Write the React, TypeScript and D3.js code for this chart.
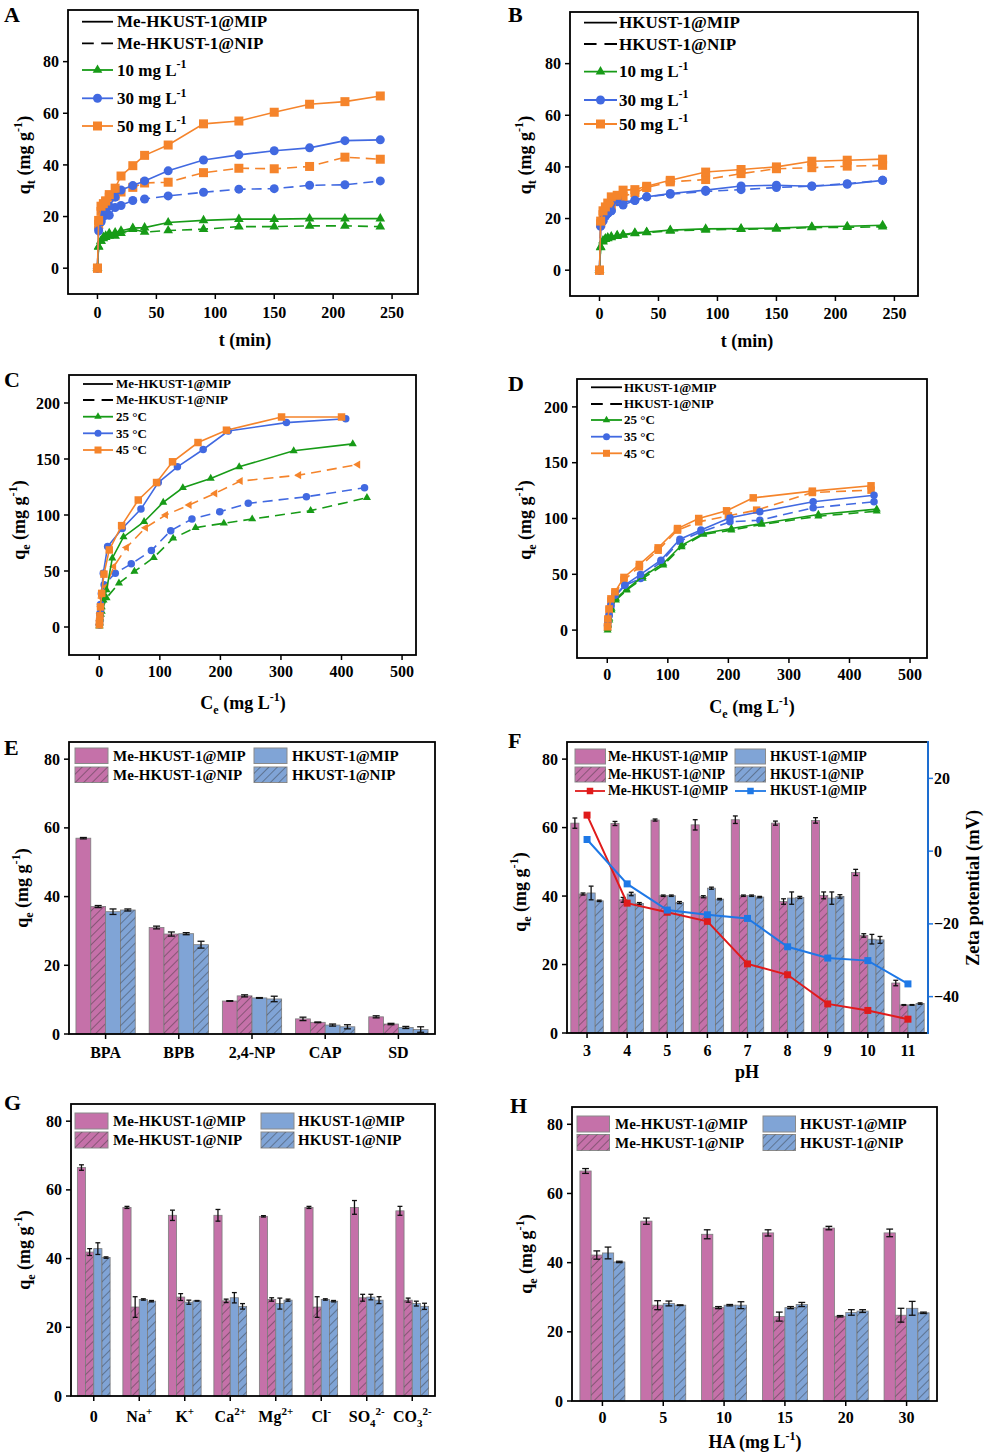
import React from 'react';
import * as d3 from 'd3';

const FONT = '"Liberation Serif","Times New Roman",Times,serif';
const ORANGE = '#F5842B';
const BLUE = '#4169E1';
const GREEN = '#179B17';
const PINK = '#C571A9';
const LBLUE = '#80A4D6';
const ZRED = '#E01B1B';
const ZBLUE = '#1E78E6';

// ---------- Panel A / B (kinetics) ----------
const tTime = [0, 1, 3, 5, 7, 10, 15, 20, 30, 40, 60, 90, 120, 150, 180, 210, 240];
const A_MIP_50 = [0, 18.5, 24, 25, 26, 28.5, 31, 35.7, 39.7, 43.7, 47.7, 55.9, 57, 60.4, 63.5, 64.5, 66.7];
const A_NIP_50 = [0, 17, 22, 24, 26, 27.5, 28, 29.5, 31.3, 33, 33.3, 37, 38.7, 38.5, 39.4, 43, 42.2];
const A_MIP_30 = [0, 14.5, 18, 21.5, 22.5, 24, 27.5, 30.3, 32, 33.8, 37.7, 41.9, 43.9, 45.5, 46.6, 49.4, 49.7];
const A_NIP_30 = [0, 15.5, 18, 20, 21, 20.5, 23.5, 24.3, 26.2, 26.8, 28, 29.4, 30.6, 30.8, 32.1, 32.3, 33.8];
const A_MIP_10 = [0, 8.4, 10.5, 12, 12.5, 13.5, 13.8, 14.5, 15.5, 15.7, 17.7, 18.5, 19, 19, 19.2, 19.2, 19.2];
const A_NIP_10 = [0, 8.2, 10.5, 11.5, 12, 12.5, 12.5, 13.5, 15.1, 14, 14.6, 15.1, 16.1, 16.1, 16.4, 16.4, 16.1];

const B_MIP_50 = [0, 19, 23, 24.5, 26, 28.4, 29, 31, 31.2, 32.5, 34.8, 38, 39, 40, 42.2, 42.6, 43];
const B_NIP_50 = [0, 18, 21.5, 23, 24, 25, 27.5, 28.6, 30, 32, 34.2, 35.1, 37.4, 39.3, 39.7, 40.3, 40.6];
const B_MIP_30 = [0, 17, 19.5, 21, 22, 23, 27.4, 25.2, 27.1, 28.4, 29.7, 31, 32.6, 32.9, 32.5, 33.3, 34.8];
const B_NIP_30 = [0, 17.5, 19, 21, 22, 23, 26.5, 26.5, 27, 28.4, 29.4, 30.5, 31.2, 32, 32.6, 33.5, 34.8];
const B_MIP_10 = [0, 9, 11.5, 12.2, 12.6, 13, 13.5, 13.8, 14.5, 14.8, 15.5, 16, 16.1, 16.3, 16.8, 17, 17.4];
const B_NIP_10 = [0, 8.8, 11, 12, 12.3, 12.7, 13.2, 13.6, 14.2, 14.6, 15.2, 15.6, 15.9, 16, 16.5, 16.6, 16.8];

// ---------- Panel C (Me-HKUST-1 isotherms) ----------
const C_MIP25_ce = [0.2, 0.5, 1, 2, 4, 7, 12, 21.5, 40, 74, 105.6, 138, 184, 231, 321, 418.6];
const C_MIP25_q = [1, 3, 7, 12, 18, 24, 33, 61.4, 80.4, 94, 111.3, 124.3, 132.6, 143, 157.3, 163.5];
const C_MIP35_ce = [0.2, 0.5, 1, 2, 3.5, 6.6, 13.8, 38, 68.8, 97.4, 129, 171.6, 213, 309, 407];
const C_MIP35_q = [2, 6, 12, 20, 30, 48, 71.8, 88, 105.3, 129, 143, 158.5, 175, 182.5, 186];
const C_MIP45_ce = [0.2, 0.5, 1, 2, 4, 7.7, 16.5, 36.9, 64.4, 94.6, 121, 163, 210, 301, 400];
const C_MIP45_q = [2, 5, 10, 18, 30, 47.2, 68.8, 90.5, 113.4, 129, 147.5, 164.7, 175.7, 187.5, 187.5];
const C_NIP25_ce = [0.3, 0.7, 1.5, 2.5, 4, 12, 32.5, 58, 90, 122, 159, 205.7, 252.5, 349, 442];
const C_NIP25_q = [1, 4, 8, 11, 14, 26, 39.2, 49.6, 62, 79.2, 88.7, 92.6, 96.4, 103.9, 115.4];
const C_NIP35_ce = [0.3, 0.7, 1.5, 2.5, 4, 8, 26.4, 52.8, 86, 118, 153, 199, 246, 342, 438];
const C_NIP35_q = [2, 5, 10, 16, 29, 37.7, 48, 56.4, 68.2, 86, 96.4, 103, 110.4, 116.3, 124.3];
const C_NIP45_ce = [0.3, 0.7, 1.5, 2.5, 4, 11, 24, 45, 76.5, 109.5, 148.5, 191, 233, 329.5, 427];
const C_NIP45_q = [2, 6, 12, 18, 26, 36, 54, 71, 88.7, 100, 108.9, 119.3, 130.3, 135.6, 145];

// ---------- Panel D (HKUST-1 isotherms) ----------
const D_MIP45_ce = [0.5, 1, 3, 6, 12.7, 27.5, 53, 84, 116, 151, 197, 241, 338.7, 435.6];
const D_MIP45_q = [3, 10, 19, 28, 34.3, 47.2, 58.8, 73.7, 91, 100, 106.9, 118.5, 124.5, 129.3];
const D_NIP45_ce = [0.5, 1, 3, 6, 12.7, 27.5, 53, 84, 116, 151, 200, 246.7, 338.7, 435.6];
const D_NIP45_q = [3, 9, 18, 26, 33, 44.8, 56.7, 71.6, 89.6, 97, 102.4, 107.5, 123.3, 125.4];
const D_MIP35_ce = [0.5, 1, 3, 6, 12.7, 29, 55, 88.7, 120, 154.7, 202.6, 252, 340, 440.5];
const D_MIP35_q = [4.5, 8, 13.4, 22.4, 31.3, 40.3, 49.9, 62.7, 81.5, 89.6, 100.6, 106, 115, 120.9];
const D_NIP35_ce = [0.5, 1, 3, 6, 12.7, 29, 55, 88.7, 120, 154.7, 202.6, 252, 340, 440.5];
const D_NIP35_q = [4, 8, 13, 21, 30, 40, 46.3, 61.2, 79.7, 88, 97, 98.5, 109.6, 115];
const D_25_ce = [0.5, 1, 3.3, 7, 14.3, 32, 58.4, 92.5, 122.8, 158.6, 205, 255, 348.6, 445];
const D_MIP25_q = [1.5, 5, 10.4, 19.4, 28.4, 36.7, 47.8, 59.7, 76, 86.6, 91, 95.5, 103.6, 108.4];
const D_NIP25_q = [0, 4, 9, 17.9, 26.9, 35.8, 46.3, 58.2, 74.6, 85.7, 89.6, 94.6, 102, 106.6];

// ---------- Panel E (selectivity) ----------
const E_cats = ['BPA', 'BPB', '2,4-NP', 'CAP', 'SD'];
const E_MeMIP = [57, 31, 9.6, 4.4, 5.0];
const E_MeMIP_err = [0.2, 0.4, 0.1, 0.5, 0.3];
const E_MeNIP = [37.1, 29.1, 11.1, 3.4, 2.9];
const E_MeNIP_err = [0.3, 0.6, 0.3, 0.1, 0.2];
const E_HKMIP = [35.6, 29.2, 10.5, 2.6, 1.9];
const E_HKMIP_err = [0.8, 0.3, 0.1, 0.3, 0.3];
const E_HKNIP = [36.1, 26.0, 10.2, 2.1, 1.3];
const E_HKNIP_err = [0.3, 1.0, 0.8, 0.6, 0.8];

// ---------- Panel F (pH) ----------
const F_cats = ['3', '4', '5', '6', '7', '8', '9', '10', '11'];
const F_MeMIP = [61.3, 61.2, 62.2, 60.8, 62.3, 61.3, 62.1, 46.9, 14.6];
const F_MeMIP_err = [1.5, 0.6, 0.3, 1.5, 1.1, 0.6, 0.8, 0.9, 0.8];
const F_MeNIP = [40.6, 38.9, 40.1, 39.8, 40.1, 38.4, 40.2, 28.5, 8.2];
const F_MeNIP_err = [0.3, 0.7, 0.2, 0.3, 0.2, 0.8, 1.0, 0.5, 0.1];
const F_HKMIP = [40.9, 40.6, 40.1, 42.3, 40.1, 39.4, 39.4, 27.4, 8.2];
const F_HKMIP_err = [2, 0.5, 0.2, 0.3, 0.2, 1.8, 1.8, 1.4, 0.1];
const F_HKNIP = [38.6, 37.8, 38.1, 39.1, 39.7, 39.6, 39.9, 27.2, 8.6];
const F_HKNIP_err = [0.2, 0.3, 0.3, 0.2, 0.2, 0.3, 0.5, 1.0, 0.2];
const F_zetaMe = [9.9, -14.3, -16.8, -19.3, -31, -34, -42, -43.8, -46.2];
const F_zetaHK = [3.2, -9, -16.2, -17.5, -18.5, -26.3, -29.4, -30.1, -36.5];

// ---------- Panel G (ions) ----------
const G_cats = ['0', 'Na+', 'K+', 'Ca2+', 'Mg2+', 'Cl-', 'SO42-', 'CO32-'];
const G_labelBase = ['0', 'Na', 'K', 'Ca', 'Mg', 'Cl', 'SO', 'CO'];
const G_labelSub = ['', '', '', '', '', '', '4', '3'];
const G_labelSup = ['', '+', '+', '2+', '2+', '-', '2-', '2-'];
const G_MeMIP = [66.5, 54.9, 52.6, 52.6, 52.3, 54.9, 54.9, 53.9];
const G_MeMIP_err = [0.8, 0.3, 1.5, 1.7, 0.2, 0.3, 2, 1.3];
const G_MeNIP = [41.9, 25.9, 28.8, 27.7, 28.1, 25.9, 28.6, 27.9];
const G_MeNIP_err = [1, 3, 1, 0.5, 0.5, 3, 1, 0.6];
const G_HKMIP = [42.9, 28.1, 27.3, 28.6, 26.9, 28.1, 28.8, 26.9];
const G_HKMIP_err = [1.7, 0.2, 0.6, 1.5, 1.6, 0.2, 0.8, 0.7];
const G_HKNIP = [40.3, 27.6, 27.7, 26.1, 27.9, 27.6, 27.9, 26.1];
const G_HKNIP_err = [0.2, 0.2, 0.1, 0.8, 0.3, 0.2, 1, 0.9];

// ---------- Panel H (HA) ----------
const H_cats = ['0', '5', '10', '15', '20', '30'];
const H_MeMIP = [66.5, 52, 48.2, 48.6, 50, 48.6];
const H_MeMIP_err = [0.7, 0.9, 1.3, 0.9, 0.5, 1.1];
const H_MeNIP = [42.2, 27.7, 27, 24.4, 24.5, 24.8];
const H_MeNIP_err = [1.2, 1.3, 0.3, 1.3, 0.2, 2];
const H_HKMIP = [42.8, 28.2, 27.7, 27, 25.6, 26.8];
const H_HKMIP_err = [1.7, 0.7, 0.2, 0.3, 0.8, 2];
const H_HKNIP = [40.2, 27.7, 27.7, 27.9, 26, 25.5];
const H_HKNIP_err = [0.2, 0.1, 1, 0.6, 0.4, 0.2];

const kinYTicks = [0, 20, 40, 60, 80];
const kinXTicks = [0, 50, 100, 150, 200, 250];
const isoYTicks = [0, 50, 100, 150, 200];
const isoXTicks = [0, 100, 200, 300, 400, 500];
const barYTicks = [0, 20, 40, 60, 80];
const zetaTicks = [-40, -20, 0, 20];

function markerPath(type, size) {
  if (type === 'circle') return d3.symbol().type(d3.symbolCircle).size((Math.PI * size * size) / 4)();
  if (type === 'square') return d3.symbol().type(d3.symbolSquare).size(size * size)();
  return d3.symbol().type(d3.symbolTriangle).size(size * size * 0.5)();
}

function Marker({ type, x, y, size, color }) {
  const rot = type === 'ltri' ? ' rotate(-90)' : '';
  return <path d={markerPath(type, size)} transform={`translate(${x},${y})${rot}`} fill={color} />;
}

function YTitle({ x, y, sub, size = 18 }) {
  return (
    <text transform={`translate(${x},${y}) rotate(-90)`} textAnchor="middle" fontSize={size} fontWeight="bold" fontFamily={FONT}>
      q<tspan fontSize={size * 0.68} dy={size * 0.28}>{sub}</tspan>
      <tspan dy={-size * 0.28}> (mg g</tspan>
      <tspan fontSize={size * 0.68} dy={-size * 0.42}>-1</tspan>
      <tspan dy={size * 0.42}>)</tspan>
    </text>
  );
}

function Frame({ box, rightColor }) {
  return (
    <g>
      <rect x={box.x0} y={box.y0} width={box.x1 - box.x0} height={box.y1 - box.y0} fill="none" stroke="#000" strokeWidth={1.8} />
      {rightColor ? <line x1={box.x1} x2={box.x1} y1={box.y0 - 0.9} y2={box.y1 + 0.9} stroke={rightColor} strokeWidth={1.8} /> : null}
    </g>
  );
}

function LinePanel({ box, xDomain, yDomain, xTicks, yTicks, series, msize, xLabelY, tickSize = 16 }) {
  const xs = d3.scaleLinear().domain(xDomain).range([box.x0, box.x1]);
  const ys = d3.scaleLinear().domain(yDomain).range([box.y1, box.y0]);
  const line = d3.line().x((d) => xs(d[0])).y((d) => ys(d[1]));
  return (
    <g>
      {series.map((s, i) => {
        const pts = s.x.map((xv, j) => [xv, s.y[j]]);
        return (
          <g key={i}>
            <path d={line(pts)} fill="none" stroke={s.color} strokeWidth={1.6} strokeDasharray={s.dashed ? '10,6' : undefined} />
            {pts.map((d, j) => (
              <Marker key={j} type={s.marker} x={xs(d[0])} y={ys(d[1])} size={msize} color={s.color} />
            ))}
          </g>
        );
      })}
      <Frame box={box} />
      {yTicks.map((t) => (
        <g key={'y' + t}>
          <line x1={box.x0} x2={box.x0 - 5} y1={ys(t)} y2={ys(t)} stroke="#000" strokeWidth={1.5} />
          <text x={box.x0 - 9} y={ys(t)} dy="0.35em" textAnchor="end" fontSize={tickSize} fontWeight="bold" fontFamily={FONT}>{t}</text>
        </g>
      ))}
      {xTicks.map((t) => (
        <g key={'x' + t}>
          <line x1={xs(t)} x2={xs(t)} y1={box.y1} y2={box.y1 + 5} stroke="#000" strokeWidth={1.5} />
          <text x={xs(t)} y={xLabelY} textAnchor="middle" fontSize={tickSize} fontWeight="bold" fontFamily={FONT}>{t}</text>
        </g>
      ))}
    </g>
  );
}

function LineLegend({ x0, x1, tx, rows, fontSize, entries, msize }) {
  return (
    <g fontFamily={FONT} fontWeight="bold" fontSize={fontSize}>
      {entries.map((e, i) => {
        const y = rows[i];
        const len = x1 - x0;
        const dash = e.dashed ? `${len * 0.38},${len * 0.24}` : undefined;
        return (
          <g key={i}>
            <line x1={x0} x2={x1} y1={y} y2={y} stroke={e.color} strokeWidth={1.8} strokeDasharray={dash} />
            {e.marker ? <Marker type={e.marker} x={(x0 + x1) / 2} y={y} size={msize} color={e.color} /> : null}
            <text x={tx} y={y} dy="0.33em">
              {e.label}
              {e.sup ? <tspan fontSize={fontSize * 0.7} dy={-fontSize * 0.42}>{e.sup}</tspan> : null}
            </text>
          </g>
        );
      })}
    </g>
  );
}

function Hatch({ x, y, w, h }) {
  return <rect x={x} y={y} width={w} height={h} fill="url(#hatch)" />;
}

function BarLegend({ cols, textX, rows, boxW, boxH, fontSize, labels }) {
  const fills = [PINK, LBLUE, PINK, LBLUE];
  const hatch = [false, false, true, true];
  return (
    <g fontFamily={FONT} fontWeight="bold" fontSize={fontSize}>
      {labels.map((lab, i) => {
        const c = i % 2;
        const r = Math.floor(i / 2);
        const x = cols[c];
        const y = rows[r];
        return (
          <g key={i}>
            <rect x={x} y={y} width={boxW} height={boxH} fill={fills[i]} stroke="#8a8a8a" strokeWidth={1} />
            {hatch[i] ? <Hatch x={x} y={y} w={boxW} h={boxH} /> : null}
            <text x={textX[c]} y={y + boxH / 2} dy="0.35em">{lab}</text>
          </g>
        );
      })}
    </g>
  );
}

function BarPanel({ box, cats, vals, errs, pi, labelY, renderLabel, tickSize = 16, children, zeta }) {
  const x = d3.scaleBand().domain(cats).range([box.x0, box.x1]).paddingInner(pi).paddingOuter(pi / 2);
  const sub = d3.scaleBand().domain([0, 1, 2, 3]).range([0, x.bandwidth()]);
  const y = d3.scaleLinear().domain([0, 85]).range([box.y1, box.y0]);
  const fills = [PINK, PINK, LBLUE, LBLUE];
  const hatch = [false, true, false, true];
  const bw = sub.bandwidth();
  const cap = Math.min(bw * 0.6, 7);
  let zetaEls = null;
  if (zeta) {
    const yz = d3.scaleLinear().domain([-50, 30]).range([box.y1, box.y0]);
    const cx = (c) => x(c) + x.bandwidth() / 2;
    const line = d3.line().x((d) => cx(d[0])).y((d) => yz(d[1]));
    zetaEls = (
      <g>
        {zeta.series.map((s, i) => (
          <g key={i}>
            <path d={line(cats.map((c, j) => [c, s.vals[j]]))} fill="none" stroke={s.color} strokeWidth={2} />
            {cats.map((c, j) => (
              <Marker key={j} type="square" x={cx(c)} y={yz(s.vals[j])} size={7} color={s.color} />
            ))}
          </g>
        ))}
        {zetaTicks.map((t) => (
          <g key={'z' + t}>
            <line x1={box.x1} x2={box.x1 + 5} y1={yz(t)} y2={yz(t)} stroke={ZBLUE} strokeWidth={1.5} />
            <text x={box.x1 + 6} y={yz(t)} dy="0.35em" fontSize={tickSize} fontWeight="bold" fontFamily={FONT}>
              {t < 0 ? '\u2212' + Math.abs(t) : t}
            </text>
          </g>
        ))}
      </g>
    );
  }
  return (
    <g>
      {cats.map((c, i) => (
        <g key={c}>
          {vals.map((arr, k) => {
            const bx = x(c) + sub(k);
            const by = y(arr[i]);
            return (
              <g key={k}>
                <rect x={bx} y={by} width={bw} height={y(0) - by} fill={fills[k]} stroke="#7d7d7d" strokeWidth={0.8} />
                {hatch[k] ? <Hatch x={bx} y={by} w={bw} h={y(0) - by} /> : null}
              </g>
            );
          })}
          {vals.map((arr, k) => {
            const cx = x(c) + sub(k) + bw / 2;
            const e = errs[k][i];
            const yt = y(arr[i] + e);
            const yb = y(arr[i] - e);
            return (
              <g key={'e' + k} stroke="#111" strokeWidth={1.3}>
                <line x1={cx} x2={cx} y1={yt} y2={yb} />
                <line x1={cx - cap / 2} x2={cx + cap / 2} y1={yt} y2={yt} />
                <line x1={cx - cap / 2} x2={cx + cap / 2} y1={yb} y2={yb} />
              </g>
            );
          })}
        </g>
      ))}
      {zetaEls}
      <Frame box={box} rightColor={zeta ? ZBLUE : undefined} />
      {barYTicks.map((t) => (
        <g key={'y' + t}>
          <line x1={box.x0} x2={box.x0 - 5} y1={y(t)} y2={y(t)} stroke="#000" strokeWidth={1.5} />
          <text x={box.x0 - 9} y={y(t)} dy="0.35em" textAnchor="end" fontSize={tickSize} fontWeight="bold" fontFamily={FONT}>{t}</text>
        </g>
      ))}
      {cats.map((c, i) => {
        const cx = x(c) + x.bandwidth() / 2;
        return (
          <g key={'x' + c}>
            <line x1={cx} x2={cx} y1={box.y1} y2={box.y1 + 5} stroke="#000" strokeWidth={1.5} />
            <text x={cx} y={labelY} textAnchor="middle" fontSize={tickSize} fontWeight="bold" fontFamily={FONT}>
              {renderLabel ? renderLabel(c, i) : c}
            </text>
          </g>
        );
      })}
      {children}
    </g>
  );
}

function Letter({ x, y, t }) {
  return <text x={x} y={y} fontSize={22} fontWeight="bold" fontFamily={FONT}>{t}</text>;
}

function CeTitle({ x, y }) {
  return (
    <text x={x} y={y} textAnchor="middle" fontSize={18} fontWeight="bold" fontFamily={FONT}>
      C<tspan fontSize={12} dy={5}>e</tspan>
      <tspan dy={-5}> (mg L</tspan>
      <tspan fontSize={12} dy={-8}>-1</tspan>
      <tspan dy={8}>)</tspan>
    </text>
  );
}

const kinLegend = (mat) => [
  { label: mat + '@MIP', color: '#000' },
  { label: mat + '@NIP', color: '#000', dashed: true },
  { label: '10 mg L', sup: '-1', color: GREEN, marker: 'tri' },
  { label: '30 mg L', sup: '-1', color: BLUE, marker: 'circle' },
  { label: '50 mg L', sup: '-1', color: ORANGE, marker: 'square' },
];
const isoLegend = (mat) => [
  { label: mat + '@MIP', color: '#000' },
  { label: mat + '@NIP', color: '#000', dashed: true },
  { label: '25 \u00B0C', color: GREEN, marker: 'tri' },
  { label: '35 \u00B0C', color: BLUE, marker: 'circle' },
  { label: '45 \u00B0C', color: ORANGE, marker: 'square' },
];

const barLabels = ['Me-HKUST-1@MIP', 'HKUST-1@MIP', 'Me-HKUST-1@NIP', 'HKUST-1@NIP'];

export default function App() {
  const boxA = { x0: 68, y0: 10, x1: 418, y1: 294 };
  const boxB = { x0: 570, y0: 12, x1: 918, y1: 296 };
  const boxC = { x0: 69, y0: 375, x1: 416, y1: 655 };
  const boxD = { x0: 577, y0: 379, x1: 927, y1: 658 };
  const boxE = { x0: 69, y0: 742, x1: 435, y1: 1034 };
  const boxF = { x0: 567, y0: 742, x1: 928, y1: 1033 };
  const boxG = { x0: 71, y0: 1104, x1: 435, y1: 1396 };
  const boxH = { x0: 572, y0: 1107, x1: 937, y1: 1401 };

  const seriesA = [
    { x: tTime, y: A_NIP_10, color: GREEN, dashed: true, marker: 'tri' },
    { x: tTime, y: A_NIP_30, color: BLUE, dashed: true, marker: 'circle' },
    { x: tTime, y: A_NIP_50, color: ORANGE, dashed: true, marker: 'square' },
    { x: tTime, y: A_MIP_10, color: GREEN, marker: 'tri' },
    { x: tTime, y: A_MIP_30, color: BLUE, marker: 'circle' },
    { x: tTime, y: A_MIP_50, color: ORANGE, marker: 'square' },
  ];
  const seriesB = [
    { x: tTime, y: B_NIP_10, color: GREEN, dashed: true, marker: 'tri' },
    { x: tTime, y: B_NIP_30, color: BLUE, dashed: true, marker: 'circle' },
    { x: tTime, y: B_NIP_50, color: ORANGE, dashed: true, marker: 'square' },
    { x: tTime, y: B_MIP_10, color: GREEN, marker: 'tri' },
    { x: tTime, y: B_MIP_30, color: BLUE, marker: 'circle' },
    { x: tTime, y: B_MIP_50, color: ORANGE, marker: 'square' },
  ];
  const seriesC = [
    { x: C_NIP25_ce, y: C_NIP25_q, color: GREEN, dashed: true, marker: 'tri' },
    { x: C_NIP35_ce, y: C_NIP35_q, color: BLUE, dashed: true, marker: 'circle' },
    { x: C_NIP45_ce, y: C_NIP45_q, color: ORANGE, dashed: true, marker: 'ltri' },
    { x: C_MIP25_ce, y: C_MIP25_q, color: GREEN, marker: 'tri' },
    { x: C_MIP35_ce, y: C_MIP35_q, color: BLUE, marker: 'circle' },
    { x: C_MIP45_ce, y: C_MIP45_q, color: ORANGE, marker: 'square' },
  ];
  const seriesD = [
    { x: D_25_ce, y: D_NIP25_q, color: GREEN, dashed: true, marker: 'tri' },
    { x: D_NIP35_ce, y: D_NIP35_q, color: BLUE, dashed: true, marker: 'circle' },
    { x: D_NIP45_ce, y: D_NIP45_q, color: ORANGE, dashed: true, marker: 'square' },
    { x: D_25_ce, y: D_MIP25_q, color: GREEN, marker: 'tri' },
    { x: D_MIP35_ce, y: D_MIP35_q, color: BLUE, marker: 'circle' },
    { x: D_MIP45_ce, y: D_MIP45_q, color: ORANGE, marker: 'square' },
  ];

  const gLabel = (c, i) => (
    <>
      {G_labelBase[i]}
      {G_labelSub[i] ? <tspan fontSize={11} dy={5}>{G_labelSub[i]}</tspan> : null}
      {G_labelSup[i] ? <tspan fontSize={11} dy={G_labelSub[i] ? -12 : -7}>{G_labelSup[i]}</tspan> : null}
    </>
  );

  return (
    <svg width={986} height={1456} style={{ position: 'absolute', left: 0, top: 0, background: '#fff' }}>
      <defs>
        <pattern id="hatch" width={6} height={6} patternUnits="userSpaceOnUse" patternTransform="rotate(45)">
          <line x1={0} y1={0} x2={0} y2={6} stroke="#2a2a2a" strokeWidth={0.8} />
        </pattern>
      </defs>
      <rect x={0} y={0} width={986} height={1456} fill="#fff" />

      {/* A */}
      <Letter x={4} y={22} t="A" />
      <LinePanel box={boxA} xDomain={[-25, 272]} yDomain={[-10, 100]} xTicks={kinXTicks} yTicks={kinYTicks} series={seriesA} msize={9} xLabelY={318} />
      <LineLegend x0={82} x1={113} tx={117} rows={[21.7, 43.3, 70, 98.3, 126]} fontSize={17} entries={kinLegend('Me-HKUST-1')} msize={9} />
      <YTitle x={30} y={155} sub="t" />
      <text x={245} y={346} textAnchor="middle" fontSize={18} fontWeight="bold" fontFamily={FONT}>t (min)</text>

      {/* B */}
      <Letter x={508} y={22} t="B" />
      <LinePanel box={boxB} xDomain={[-25, 270]} yDomain={[-10, 100]} xTicks={kinXTicks} yTicks={kinYTicks} series={seriesB} msize={9} xLabelY={319} />
      <LineLegend x0={584} x1={617} tx={619} rows={[22.7, 44, 71.7, 100, 124]} fontSize={17} entries={kinLegend('HKUST-1')} msize={9} />
      <YTitle x={531} y={155} sub="t" />
      <text x={747} y={347} textAnchor="middle" fontSize={18} fontWeight="bold" fontFamily={FONT}>t (min)</text>

      {/* C */}
      <Letter x={4} y={387} t="C" />
      <LinePanel box={boxC} xDomain={[-50, 523]} yDomain={[-25, 225]} xTicks={isoXTicks} yTicks={isoYTicks} series={seriesC} msize={7.5} xLabelY={677} />
      <LineLegend x0={83} x1={113} tx={116} rows={[384, 400, 416.7, 433.3, 450]} fontSize={13} entries={isoLegend('Me-HKUST-1')} msize={7} />
      <YTitle x={25} y={520} sub="e" />
      <CeTitle x={243} y={709} />

      {/* D */}
      <Letter x={508} y={391} t="D" />
      <LinePanel box={boxD} xDomain={[-50, 528]} yDomain={[-25, 225]} xTicks={isoXTicks} yTicks={isoYTicks} series={seriesD} msize={7.5} xLabelY={680} />
      <LineLegend x0={591} x1={622} tx={624} rows={[387.3, 404, 420, 436.7, 453.3]} fontSize={13} entries={isoLegend('HKUST-1')} msize={7} />
      <YTitle x={531} y={520} sub="e" />
      <CeTitle x={752} y={713} />

      {/* E */}
      <Letter x={4} y={755} t="E" />
      <BarPanel box={boxE} cats={E_cats} vals={[E_MeMIP, E_MeNIP, E_HKMIP, E_HKNIP]} errs={[E_MeMIP_err, E_MeNIP_err, E_HKMIP_err, E_HKNIP_err]} pi={0.19} labelY={1058}>
        <BarLegend cols={[75, 254]} textX={[113, 292]} rows={[748, 767]} boxW={33} boxH={15.5} fontSize={15} labels={barLabels} />
      </BarPanel>
      <YTitle x={28} y={888} sub="e" />

      {/* F */}
      <Letter x={508} y={748} t="F" />
      <BarPanel box={boxF} cats={F_cats} vals={[F_MeMIP, F_MeNIP, F_HKMIP, F_HKNIP]} errs={[F_MeMIP_err, F_MeNIP_err, F_HKMIP_err, F_HKNIP_err]} pi={0.19} labelY={1056}
        zeta={{ series: [{ vals: F_zetaMe, color: ZRED }, { vals: F_zetaHK, color: ZBLUE }] }}>
        <BarLegend cols={[575, 735]} textX={[608, 770]} rows={[749, 767]} boxW={30.5} boxH={15} fontSize={13.6} labels={barLabels} />
        <LineLegend x0={575} x1={605} tx={608} rows={[791]} fontSize={13.6} entries={[{ label: 'Me-HKUST-1@MIP', color: ZRED, marker: 'square' }]} msize={6.5} />
        <LineLegend x0={735} x1={766} tx={770} rows={[791]} fontSize={13.6} entries={[{ label: 'HKUST-1@MIP', color: ZBLUE, marker: 'square' }]} msize={6.5} />
      </BarPanel>
      <YTitle x={526} y={892} sub="e" />
      <text transform="translate(979,888) rotate(-90)" textAnchor="middle" fontSize={18.5} fontWeight="bold" fontFamily={FONT}>Zeta potential (mV)</text>
      <text x={747} y={1078} textAnchor="middle" fontSize={18} fontWeight="bold" fontFamily={FONT}>pH</text>

      {/* G */}
      <Letter x={4} y={1110} t="G" />
      <BarPanel box={boxG} cats={G_cats} vals={[G_MeMIP, G_MeNIP, G_HKMIP, G_HKNIP]} errs={[G_MeMIP_err, G_MeNIP_err, G_HKMIP_err, G_HKNIP_err]} pi={0.28} labelY={1422} renderLabel={gLabel}>
        <BarLegend cols={[75, 261]} textX={[113, 298]} rows={[1113, 1132]} boxW={33} boxH={16} fontSize={15} labels={barLabels} />
      </BarPanel>
      <YTitle x={30} y={1250} sub="e" />

      {/* H */}
      <Letter x={510} y={1113} t="H" />
      <BarPanel box={boxH} cats={H_cats} vals={[H_MeMIP, H_MeNIP, H_HKMIP, H_HKNIP]} errs={[H_MeMIP_err, H_MeNIP_err, H_HKMIP_err, H_HKNIP_err]} pi={0.26} labelY={1423}>
        <BarLegend cols={[577, 763]} textX={[615, 800]} rows={[1116, 1134.5]} boxW={32.5} boxH={16} fontSize={15} labels={barLabels} />
      </BarPanel>
      <YTitle x={532} y={1254} sub="e" />
      <text x={755} y={1448} textAnchor="middle" fontSize={18} fontWeight="bold" fontFamily={FONT}>
        HA (mg L<tspan fontSize={12} dy={-8}>-1</tspan>
        <tspan dy={8}>)</tspan>
      </text>
    </svg>
  );
}
